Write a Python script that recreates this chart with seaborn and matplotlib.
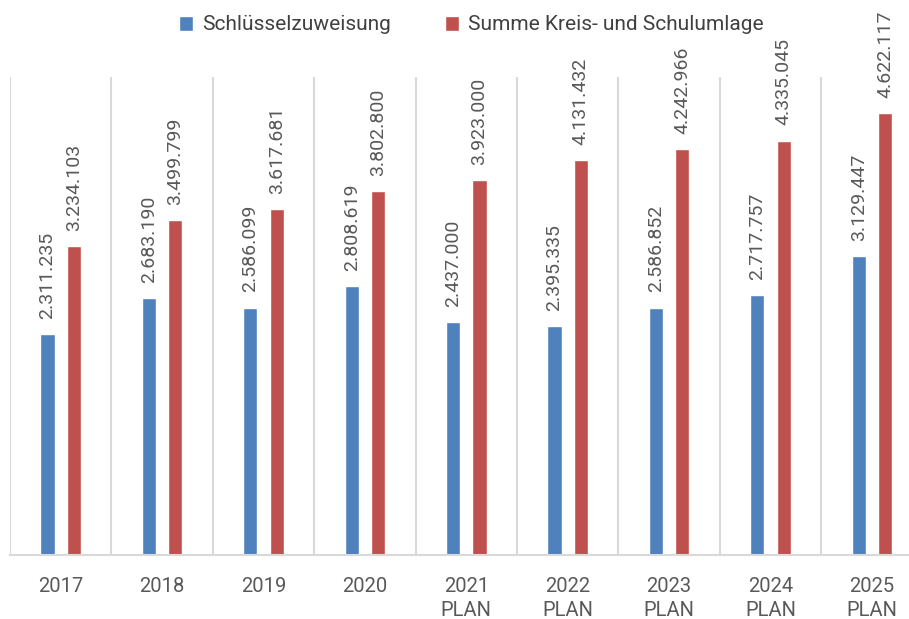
import matplotlib
matplotlib.use("Agg")
import matplotlib.pyplot as plt
import seaborn as sns
import numpy as np
import pandas as pd

categories = ["2017", "2018", "2019", "2020", "2021\nPLAN", "2022\nPLAN",
              "2023\nPLAN", "2024\nPLAN", "2025\nPLAN"]
series_names = ["Schlüsselzuweisung", "Summe Kreis- und Schulumlage"]
schluessel = [2311235, 2683190, 2586099, 2808619, 2437000, 2395335, 2586852, 2717757, 3129447]
umlage = [3234103, 3499799, 3617681, 3802800, 3923000, 4131432, 4242966, 4335045, 4622117]

BLUE = "#4F81BD"
RED = "#C0504D"
GRID = "#D9D9D9"
LABEL = "#595959"

sns.set_style("white")
plt.rcParams["font.family"] = ["Roboto", "DejaVu Sans"]

df = pd.DataFrame({
    "Jahr": categories * 2,
    "Reihe": [series_names[0]] * len(categories) + [series_names[1]] * len(categories),
    "Wert": schluessel + umlage,
})

W, H = 909, 619
fig = plt.figure(figsize=(W / 100, H / 100), dpi=100)
ax = fig.add_axes([10 / W, 64 / H, 899 / W, 478 / H])

sns.barplot(data=df, x="Jahr", y="Wert", hue="Reihe", order=categories,
            hue_order=series_names, palette=[BLUE, RED], saturation=1,
            width=0.52, gap=0.46, ax=ax)

def fmt(v):
    return f"{v:,.0f}".replace(",", ".")

for cont in ax.containers:
    ax.bar_label(cont, labels=[fmt(v) for v in cont.datavalues], rotation=90,
                 padding=11, color=LABEL, fontsize=14)

ax.set_ylim(0, 5_000_000)
ax.set_xlim(-0.5, -0.5 + 899 / 101.4)
ax.set_yticks([])
ax.set_xlabel("")
ax.set_ylabel("")

ax.set_xticks(np.arange(-0.5, 8.5, 1), minor=True)
ax.grid(False)
ax.grid(True, which="minor", axis="x", color=GRID, linewidth=1.5)
ax.tick_params(axis="x", which="both", length=0)
ax.tick_params(axis="x", which="major", labelsize=14.5, labelcolor=LABEL, pad=16)
for t in ax.get_xticklabels():
    t.set_linespacing(1.35)

for s in ["top", "right", "left"]:
    ax.spines[s].set_visible(False)
ax.spines["bottom"].set_color(GRID)
ax.spines["bottom"].set_linewidth(1.5)

sns.move_legend(ax, "center", bbox_to_anchor=(471 / W, 1 - 25 / H),
                bbox_transform=fig.transFigure, ncol=2, frameon=False, title=None,
                fontsize=15, handlelength=0.7, handleheight=0.7,
                handletextpad=0.4, columnspacing=2.6)
for t in ax.get_legend().get_texts():
    t.set_color("#404040")

fig.savefig("out.png", dpi=100)
